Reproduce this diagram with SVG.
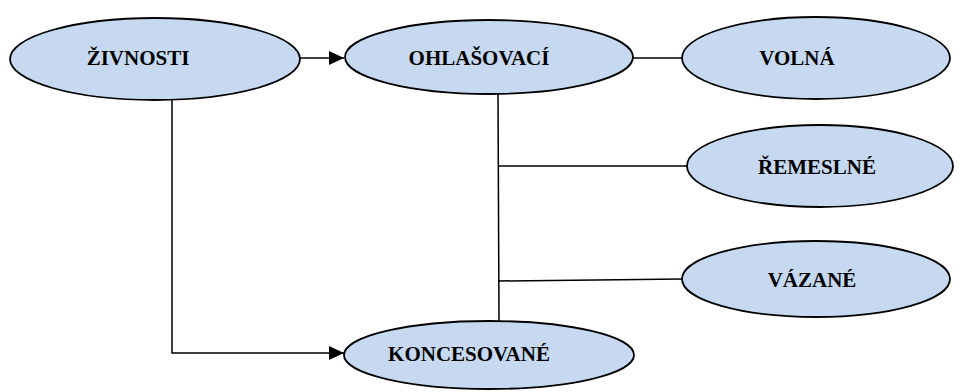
<svg xmlns="http://www.w3.org/2000/svg" width="963" height="392" viewBox="0 0 963 392">
<style>
.node ellipse{fill:#c6d9f1;stroke:#000;stroke-width:1.8}
.node text{font-family:'Liberation Serif','Times New Roman',serif;font-weight:bold;font-size:21px;fill:#000}
.conn{fill:none;stroke:#000;stroke-width:1.5}
</style>
<defs>
<marker id="arr" markerWidth="15" markerHeight="14" refX="15" refY="7" orient="auto" markerUnits="userSpaceOnUse">
<path d="M0,0 L15,7 L0,14 Z" fill="#000"/>
</marker>
</defs>
<rect width="963" height="392" fill="#fff"/>
<g id="connectors">
<line class="conn" x1="300" y1="58" x2="344" y2="58" marker-end="url(#arr)"/>
<polyline class="conn" points="172,97 172,353 344,353" marker-end="url(#arr)"/>
<line class="conn" x1="633" y1="58" x2="683" y2="58"/>
<line class="conn" x1="498" y1="94" x2="499" y2="321"/>
<line class="conn" x1="498" y1="166" x2="688" y2="166"/>
<line class="conn" x1="498" y1="281" x2="683" y2="279"/>
</g>
<g id="zivnosti" class="node">
<ellipse cx="155" cy="59" rx="145" ry="41"/>
<text x="138" y="65" text-anchor="middle">ŽIVNOSTI</text>
</g>
<g id="ohlasovaci" class="node">
<ellipse cx="489" cy="57" rx="144" ry="37"/>
<text x="479" y="65" text-anchor="middle">OHLAŠOVACÍ</text>
</g>
<g id="volna" class="node">
<ellipse cx="816" cy="58" rx="134" ry="41"/>
<text x="797" y="65" text-anchor="middle">VOLNÁ</text>
</g>
<g id="remeslne" class="node">
<ellipse cx="820" cy="166" rx="133" ry="41"/>
<text x="817" y="174" text-anchor="middle">ŘEMESLNÉ</text>
</g>
<g id="vazane" class="node">
<ellipse cx="816" cy="279" rx="134" ry="38"/>
<text x="812" y="287" text-anchor="middle">VÁZANÉ</text>
</g>
<g id="koncesovane" class="node">
<ellipse cx="489" cy="355" rx="145" ry="34"/>
<text x="469" y="361" text-anchor="middle">KONCESOVANÉ</text>
</g>
</svg>
